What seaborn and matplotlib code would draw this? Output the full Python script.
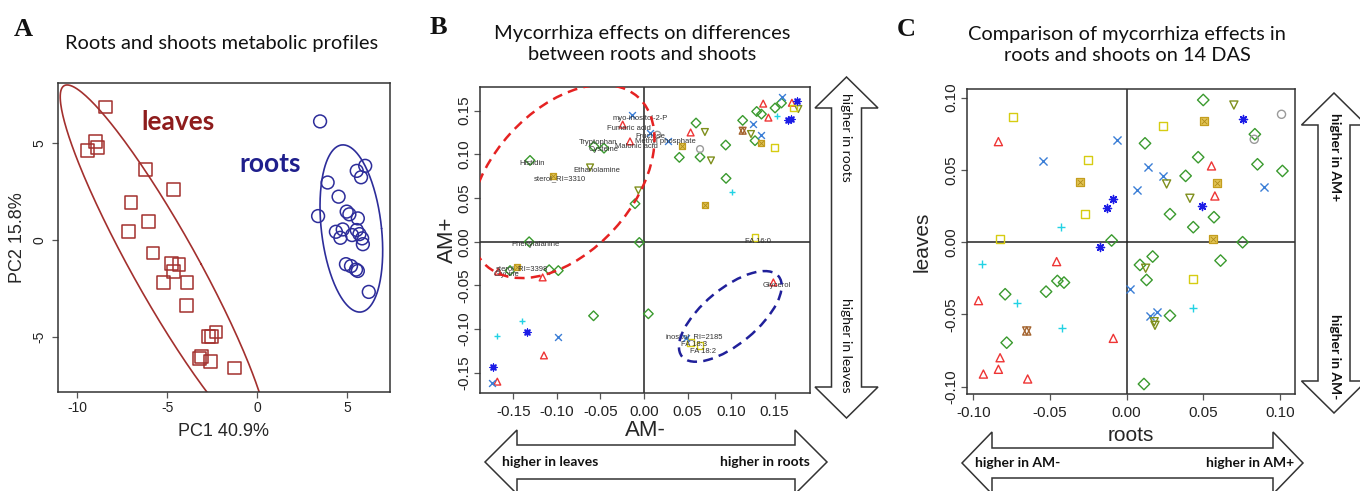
import matplotlib

matplotlib.use("Agg")
import matplotlib.pyplot as plt
import numpy as np
import seaborn as sns
from matplotlib.patches import Ellipse, Polygon

W, H = 1360, 491

# ---------------- Panel A: PCA scores ----------------
LEAVES_PC1 = [-8.41, -8.97, -8.88, -9.44, -6.22, -4.64, -7.01, -6.02, -7.14, -5.78, -4.77, -4.34,
              -4.64, -5.20, -3.89, -3.93, -2.28, -2.71, -2.52, -3.08, -3.18, -2.58, -1.27]
LEAVES_PC2 = [6.86, 5.09, 4.79, 4.62, 3.62, 2.59, 1.93, 0.95, 0.43, -0.66, -1.21, -1.24,
              -1.60, -2.17, -2.19, -3.36, -4.74, -4.97, -4.97, -6.00, -6.12, -6.24, -6.59]
ROOTS_PC1 = [3.51, 3.93, 6.02, 5.55, 5.79, 4.54, 3.40, 4.99, 5.14, 5.61, 4.39, 4.77,
             4.64, 5.29, 5.55, 5.70, 5.85, 5.89, 4.95, 5.23, 5.51, 5.61, 6.22]
ROOTS_PC2 = [6.12, 2.97, 3.83, 3.57, 3.24, 2.24, 1.24, 1.47, 1.33, 1.12, 0.43, 0.55,
             0.12, 0.26, 0.52, 0.31, 0.09, -0.21, -1.24, -1.34, -1.52, -1.59, -2.67]

# ---------------- Panel B: AM- vs AM+ ----------------
B_TRI_X = [-0.0245, -0.0161, 0.0536, 0.137, 0.143, 0.170, -0.1675, -0.1165, -0.115, -0.1686, 0.1487]
B_TRI_Y = [0.134, 0.1148, 0.125, 0.158, 0.142, 0.159, -0.034, -0.0408, -0.130, -0.160, -0.0465]
B_DIA_X = [-0.131, -0.0103, -0.0054, -0.132, 0.0406, 0.0598, 0.0644, 0.0939, 0.0943, 0.1134, 0.1295,
           0.135, 0.1276, 0.1506, 0.158, -0.046, -0.0575, -0.154, -0.109, -0.0985, -0.058, 0.005]
B_DIA_Y = [0.093, 0.0435, -0.0008, 0.0, 0.0965, 0.1358, 0.0969, 0.1106, 0.0725, 0.1388, 0.149,
           0.146, 0.1156, 0.153, 0.1587, 0.107, 0.109, -0.033, -0.032, -0.033, -0.0847, -0.0824]
B_DTRI_X = [-0.062, -0.0065, 0.070, 0.077, 0.123, 0.1774]
B_DTRI_Y = [0.085, 0.0587, 0.1255, 0.093, 0.1232, 0.1518]
B_SQ_X = [0.150, 0.1276, 0.1717, 0.0536, 0.0644]
B_SQ_Y = [0.108, 0.005, 0.153, -0.115, -0.1186]
B_GSQ_X = [-0.105, 0.044, 0.070, 0.135, -0.146]
B_GSQ_Y = [0.0747, 0.109, 0.0423, 0.113, -0.029]
B_STAR_X = [0.1134]
B_STAR_Y = [0.127]
B_CROSS_X = [-0.0134, 0.0069, 0.0272, 0.125, 0.135, 0.159, -0.0985, -0.1744, 0.048]
B_CROSS_Y = [0.1453, 0.124, 0.1148, 0.135, 0.1224, 0.165, -0.1095, -0.161, -0.110]
B_PLUS_X = [0.153, 0.1008, -0.140, -0.169]
B_PLUS_Y = [0.1434, 0.0568, -0.0904, -0.1075]
B_AST_X = [0.1755, 0.166, 0.169, -0.135, -0.1732]
B_AST_Y = [0.1606, 0.139, 0.140, -0.1037, -0.1434]
B_CIRC_X = [0.0644, 0.0153]
B_CIRC_Y = [0.106, 0.1224]

B_LABELS = ["myo-inositol-2-P", "Fumaric acid", "Fructose", "Methyl phosphate", "Tryptophan",
            "Malonic acid", "Cysteine", "Histidin", "Ethanolamine", "sterol_RI=3310",
            "Phenylalanine", "FA 16:0", "sterol_RI=3398", "Glycine", "Glycerol",
            "inositol_RI=2185", "FA 18:3", "FA 18:2"]
B_LABEL_X = [-0.0046, -0.0169, 0.0069, 0.024, -0.0525, -0.0084, -0.0468, -0.129, -0.0544, -0.0966,
             -0.125, 0.131, -0.1405, -0.158, 0.1525, 0.0575, 0.0575, 0.068]
B_LABEL_Y = [0.1415, 0.129, 0.1205, 0.1148, 0.1137, 0.109, 0.105, 0.089, 0.0816, 0.0725,
             -0.0027, 0.0, -0.031, -0.0375, -0.050, -0.109, -0.118, -0.126]

# ---------------- Panel C: roots vs leaves ----------------
C_SQ_X = [-0.0743, -0.025, -0.0272, -0.0826, 0.0239, 0.0435]
C_SQ_Y = [0.0869, 0.0569, 0.0194, 0.0021, 0.0804, -0.0256]
C_TRI_X = [-0.0837, 0.0554, 0.0576, -0.0457, -0.0967, -0.0087, -0.0826, -0.0837, -0.0935, -0.0646]
C_TRI_Y = [0.0696, 0.0528, 0.032, -0.0134, -0.0404, -0.0665, -0.0799, -0.0879, -0.0912, -0.0946]
C_CROSS_X = [-0.0548, -0.0065, 0.0141, 0.0235, 0.0065, 0.0898, 0.0022, 0.0152, 0.0196]
C_CROSS_Y = [0.0562, 0.0707, 0.0523, 0.0461, 0.0362, 0.0385, -0.0323, -0.051, -0.048]
C_GSQ_X = [-0.0304, 0.0504, 0.0593, 0.0565]
C_GSQ_Y = [0.0415, 0.0839, 0.0408, 0.0021]
C_AST_X = [-0.0091, -0.0126, 0.0761, 0.0489, -0.0174]
C_AST_Y = [0.0297, 0.0235, 0.085, 0.0253, -0.0035]
C_PLUS_X = [-0.0428, -0.0946, -0.0713, -0.0424, 0.043]
C_PLUS_Y = [0.0108, -0.0152, -0.0418, -0.0591, -0.0457]
C_DIA_X = [-0.0098, 0.012, 0.05, 0.0467, 0.0385, 0.0283, 0.0435, 0.057, 0.0757, 0.0837, 0.0854, 0.1017,
           -0.0526, -0.0452, -0.0409, -0.0793, -0.0783, 0.0087, 0.017, 0.013, 0.0283, 0.0613, 0.0113]
C_DIA_Y = [0.0012, 0.0684, 0.0984, 0.0588, 0.0459, 0.0194, 0.0104, 0.0173, 0.0, 0.0747, 0.0539, 0.0493,
           -0.0342, -0.0268, -0.0279, -0.036, -0.0695, -0.0157, -0.0099, -0.0261, -0.0508, -0.0127, -0.0981]
C_DTRI_X = [0.070, 0.0261, 0.0413, 0.0124, 0.018, 0.0185]
C_DTRI_Y = [0.0949, 0.0403, 0.0304, -0.018, -0.055, -0.0575]
C_CIRC_X = [0.1011, 0.0833]
C_CIRC_Y = [0.0885, 0.0712]
C_STAR_X = [-0.0652]
C_STAR_Y = [-0.0614]

# marker look per metabolite class (R pch style)
STYLES = {
    "tri": ("^", "#ee3535", False),
    "dia": ("D", "#3a9a2e", False),
    "dtri": ("v", "#7f8f1c", False),
    "sq": ("s", "#d6cc12", False),
    "gsq": ("s", "#e2c456", True),
    "cross": ("x", "#3b7ed6", None),
    "plus": ("+", "#22d2e4", None),
    "ast": ((8, 2, 0), "#1c1ce6", None),
    "circ": ("o", "#9a9a9a", False),
    "star": ("^", "#a3622c", False),
}

sns.set_style("white")
plt.rcParams["font.family"] = ["Liberation Sans", "DejaVu Sans"]

fig = plt.figure(figsize=(W / 100, H / 100), dpi=100)


def px_axes(left, top, right, bottom):
    return fig.add_axes([left / W, 1 - bottom / H, (right - left) / W, (bottom - top) / H])


def draw_group(ax, xs, ys, kind, s):
    marker, color, filled = STYLES[kind]
    d = dict(x=xs, y=ys, ax=ax, legend=False, zorder=3)
    if filled is True:
        sns.scatterplot(marker=marker, s=s, color=color, edgecolor="#c49e1e", linewidth=0.9, **d)
        sns.scatterplot(marker="x", s=s * 0.45, color="#b08c18", linewidth=0.6, **d)
    elif filled is False:
        sns.scatterplot(marker=marker, s=s, color=color, facecolor="none", edgecolor=color,
                        linewidth=1.0, **d)
        if kind == "star":
            sns.scatterplot(marker="v", s=s, color=color, facecolor="none", edgecolor=color,
                            linewidth=1.0, **d)
    else:
        sns.scatterplot(marker=marker, s=s, color=color, linewidth=1.0, **d)


def style_axes(ax, xticks, yticks, fmt, fs, pad_x, pad_y):
    for sp in ax.spines.values():
        sp.set_visible(True)
        sp.set_linewidth(1.1)
        sp.set_color("#333333")
    ax.set_xticks(xticks)
    ax.set_yticks(yticks)
    ax.set_xticklabels([fmt.format(v) for v in xticks])
    ax.set_yticklabels([fmt.format(v) for v in yticks], rotation=90, va="center")
    ax.tick_params(axis="both", direction="out", length=4.5, width=0.9, color="#555555",
                   labelsize=fs, labelcolor="#222222", bottom=True, left=True)
    ax.tick_params(axis="x", pad=pad_x)
    ax.tick_params(axis="y", pad=pad_y)


def group_ellipse(ax, center, half_h, shear, half_w, color):
    # sheared ellipse in data units: vertical half extent, lean of the axis, half width
    t = np.linspace(0, 2 * np.pi, 300)
    dy = half_h * np.sin(t)
    ex = center[0] + shear * dy + half_w * np.cos(t)
    ax.plot(ex, center[1] + dy, color=color, lw=1.2, zorder=2)


def block_arrow(x0, x1, c, shaft, head, head_len, vertical=False):
    pts = [(x0, c), (x0 + head_len, c - head), (x0 + head_len, c - shaft),
           (x1 - head_len, c - shaft), (x1 - head_len, c - head), (x1, c),
           (x1 - head_len, c + head), (x1 - head_len, c + shaft),
           (x0 + head_len, c + shaft), (x0 + head_len, c + head)]
    if vertical:
        pts = [(b, a) for a, b in pts]
    pts = [(px / W, 1 - py / H) for px, py in pts]
    fig.patches.append(Polygon(pts, closed=True, transform=fig.transFigure, facecolor="white",
                               edgecolor="#333333", lw=1.1, clip_on=False))


# ======================= Panel A =======================
axA = px_axes(58, 83, 390, 392)
sns.scatterplot(x=LEAVES_PC1, y=LEAVES_PC2, marker="s", s=85, facecolor="none",
                edgecolor="#a3302e", linewidth=1.1, ax=axA, zorder=3)
sns.scatterplot(x=ROOTS_PC1, y=ROOTS_PC2, marker="o", s=85, facecolor="none",
                edgecolor="#2d2d9a", linewidth=1.1, ax=axA, zorder=3)
group_ellipse(axA, (-5.17, -1.25), 9.25, -0.583, 2.07, "#a3302e")
group_ellipse(axA, (5.25, 0.6), 4.31, -0.108, 1.68, "#2d2d9a")
axA.set_xlim(-11.07, 7.4)
axA.set_ylim(-7.83, 8.1)
style_axes(axA, [-10, -5, 0, 5], [-5, 0, 5], "{:g}", 10, 2, 4)
axA.text(-4.4, 6.1, "leaves", color="#8e1c1c", fontsize=19, fontweight="bold",
         family="Lato", ha="center", va="center")
axA.text(0.75, 3.9, "roots", color="#1f1f8c", fontsize=19, fontweight="bold",
         family="Lato", ha="center", va="center")
axA.set_xlabel("PC1 40.9%", fontsize=13, va="center")
axA.xaxis.set_label_coords(0.5, -0.129)
axA.set_ylabel("PC2 15.8%", fontsize=13, va="center")
axA.yaxis.set_label_coords(-0.122, 0.5)

# ======================= Panel B =======================
axB = px_axes(480, 87, 810, 393)
axB.axhline(0, color="#222222", lw=1.1, zorder=1)
axB.axvline(0, color="#222222", lw=1.1, zorder=1)
for kind, xs, ys in [("tri", B_TRI_X, B_TRI_Y), ("dia", B_DIA_X, B_DIA_Y),
                     ("dtri", B_DTRI_X, B_DTRI_Y), ("sq", B_SQ_X, B_SQ_Y),
                     ("gsq", B_GSQ_X, B_GSQ_Y), ("star", B_STAR_X, B_STAR_Y),
                     ("cross", B_CROSS_X, B_CROSS_Y), ("plus", B_PLUS_X, B_PLUS_Y),
                     ("ast", B_AST_X, B_AST_Y), ("circ", B_CIRC_X, B_CIRC_Y)]:
    draw_group(axB, xs, ys, kind, 24)
for name, lx, ly in zip(B_LABELS, B_LABEL_X, B_LABEL_Y):
    axB.text(lx, ly, name, fontsize=5.5, color="#333333", ha="center", va="center", zorder=4)
# highlight groups
axB.add_patch(Ellipse((-0.094, 0.069), 0.26, 0.162, angle=47.7, fill=False,
                      edgecolor="#e52222", lw=1.8, ls=(0, (4, 2.5)), zorder=5))
axB.add_patch(Ellipse((0.0992, -0.0854), 0.144, 0.063, angle=39.5, fill=False,
                      edgecolor="#20209a", lw=1.8, ls=(0, (4, 2.5)), zorder=5))
axB.set_xlim(-0.1885, 0.1908)
axB.set_ylim(-0.173, 0.177)
style_axes(axB, [-0.15, -0.10, -0.05, 0.0, 0.05, 0.10, 0.15],
           [-0.15, -0.10, -0.05, 0.0, 0.05, 0.10, 0.15], "{:.2f}", 11, 4, 2)
axB.set_xlabel("AM-", fontsize=16, va="center")
axB.xaxis.set_label_coords(0.5, -0.124)
axB.set_ylabel("AM+", fontsize=16, va="center")
axB.yaxis.set_label_coords(-0.1, 0.5)

# ======================= Panel C =======================
axC = px_axes(967, 89, 1295, 394)
axC.axhline(0, color="#222222", lw=1.1, zorder=1)
axC.axvline(0, color="#222222", lw=1.1, zorder=1)
for kind, xs, ys in [("sq", C_SQ_X, C_SQ_Y), ("tri", C_TRI_X, C_TRI_Y),
                     ("cross", C_CROSS_X, C_CROSS_Y), ("gsq", C_GSQ_X, C_GSQ_Y),
                     ("ast", C_AST_X, C_AST_Y), ("plus", C_PLUS_X, C_PLUS_Y),
                     ("dia", C_DIA_X, C_DIA_Y), ("dtri", C_DTRI_X, C_DTRI_Y),
                     ("circ", C_CIRC_X, C_CIRC_Y), ("star", C_STAR_X, C_STAR_Y)]:
    draw_group(axC, xs, ys, kind, 34)
axC.set_xlim(-0.1042, 0.1099)
axC.set_ylim(-0.105, 0.106)
style_axes(axC, [-0.10, -0.05, 0.0, 0.05, 0.10], [-0.10, -0.05, 0.0, 0.05, 0.10],
           "{:.2f}", 11, 4, 2)
axC.set_xlabel("roots", fontsize=15, va="center")
axC.xaxis.set_label_coords(0.5, -0.136)
axC.set_ylabel("leaves", fontsize=15, va="center")
axC.yaxis.set_label_coords(-0.137, 0.5)

# ======================= arrows & titles =======================
block_arrow(485, 827, 462, 17, 32, 32)
block_arrow(962, 1303, 463, 15, 31, 30)
block_arrow(77, 418, 846.5, 15, 31.5, 31, vertical=True)
block_arrow(93, 413, 1334, 16, 32.5, 32, vertical=True)


def ftext(x, y, s, **kw):
    fig.text(x / W, 1 - y / H, s, ha="center", va="center", **kw)


bold_lato = dict(family="Lato", fontweight="bold", fontsize=10, color="#111111")
ftext(550, 462, "higher in leaves", **bold_lato)
ftext(765, 462, "higher in roots", **bold_lato)
ftext(1018, 463, "higher in AM-", **bold_lato)
ftext(1250, 463, "higher in AM+", **bold_lato)
ftext(846, 137, "higher in roots", rotation=-90, family="Lato", fontsize=10, color="#111111")
ftext(846, 345, "higher in leaves", rotation=-90, family="Lato", fontsize=10, color="#111111")
ftext(1335, 157, "higher in AM+", rotation=-90, **bold_lato)
ftext(1335, 357, "higher in AM-", rotation=-90, **bold_lato)

letter = dict(family="Liberation Serif", fontweight="bold", fontsize=19, color="#111111")
ftext(23, 30, "A", **letter)
ftext(438, 28, "B", **letter)
ftext(906, 30, "C", **letter)

title = dict(family="Lato", fontsize=14.4, color="#111111", linespacing=1.3)
ftext(222, 43, "Roots and shoots metabolic profiles", **title)
ftext(642, 44, "Mycorrhiza effects on differences\nbetween roots and shoots", **title)
ftext(1127, 45, "Comparison of mycorrhiza effects in\nroots and shoots on 14 DAS", **title)

fig.savefig("out.png", dpi=100, facecolor="white")
